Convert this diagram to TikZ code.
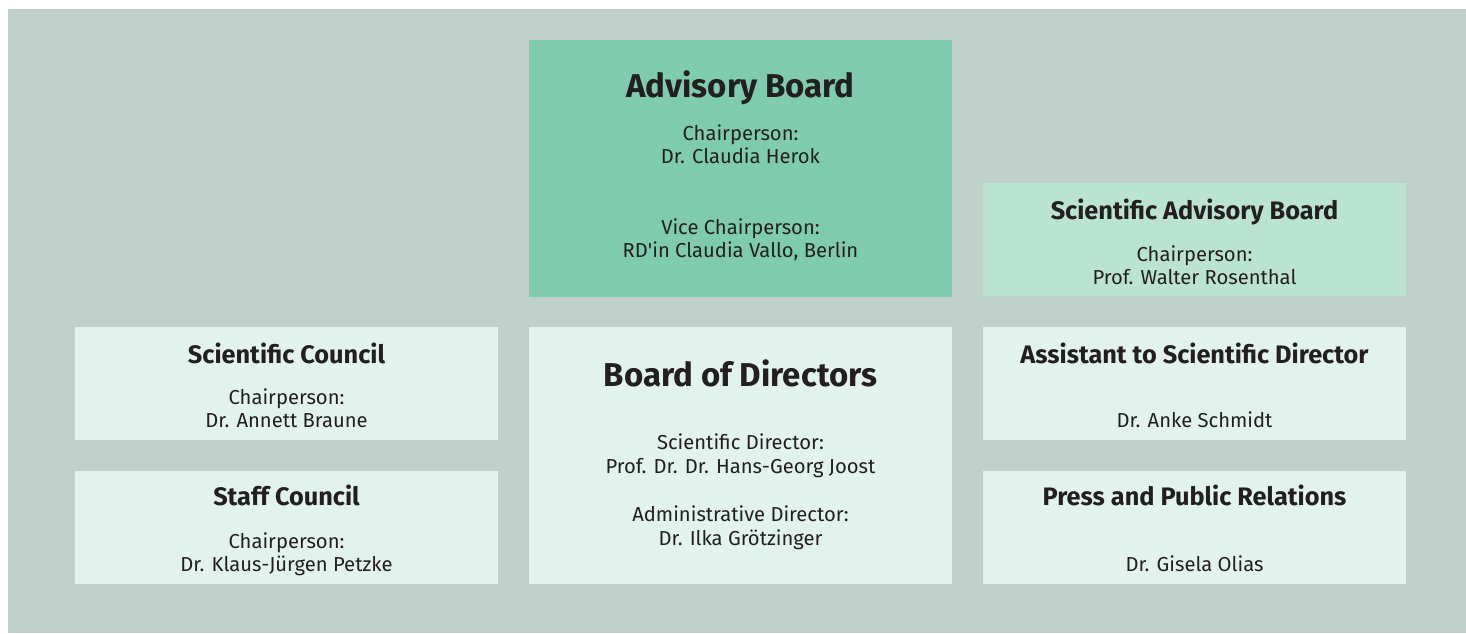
\documentclass[tikz,border=0pt]{standalone}
\usepackage{fontspec}
\newfontfamily\boxfont{Fira Sans}
\usepackage{xcolor}
\usepackage{tikz}
\usetikzlibrary{positioning}
\definecolor{GrayBack}{RGB}{192,208,203}
\definecolor{GreenBoard}{RGB}{127,203,175}
\definecolor{GreenPale}{RGB}{187,227,210}
\definecolor{GreenLight}{RGB}{226,242,236}
\definecolor{InkDark}{RGB}{35,31,32}
\tikzset{
  panel/.style={draw=none,inner sep=0pt,minimum width=423,minimum height=113},
  bighead/.style={anchor=base,font=\boxfont\bfseries\fontsize{33}{38}\selectfont,text=InkDark,inner sep=0pt},
  head/.style={anchor=base,font=\boxfont\bfseries\fontsize{25.3}{30}\selectfont,text=InkDark,inner sep=0pt},
  line/.style={anchor=base,font=\boxfont\fontsize{20.2}{24}\selectfont,text=InkDark,inner sep=0pt}
}
\begin{document}
\begin{tikzpicture}[x=1pt,y=-1pt]
  \useasboundingbox (0,0) rectangle (1466,633);
  \fill[GrayBack] (8,9) rectangle (1466,633);
  % boxes
  \node[panel,fill=GreenBoard,minimum height=257] (adv) at (740.5,168.5) {};
  \node[panel,fill=GreenPale] (sab) at (1194.5,239.5) {};
  \node[panel,fill=GreenLight] (sci) at (286.5,383.5) {};
  \node[panel,fill=GreenLight] (staff) at (286.5,527.5) {};
  \node[panel,fill=GreenLight,minimum height=257] (dir) at (740.5,455.5) {};
  \node[panel,fill=GreenLight] (asst) at (1194.5,383.5) {};
  \node[panel,fill=GreenLight] (press) at (1194.5,527.5) {};
  % Advisory Board
  \node[bighead] (advT) at (740.5,97) {Advisory Board};
  \node[line] (advA) at (740.5,140) {Chairperson:};
  \node[line] (advB) at (740.5,163) {Dr. Claudia Herok};
  \node[line] (advC) at (740.5,234) {Vice Chairperson:};
  \node[line] (advD) at (740.5,257) {RD'in Claudia Vallo, Berlin};
  % Scientific Advisory Board
  \node[head] (sabT) at (1194.5,219) {Scientific Advisory Board};
  \node[line] (sabA) at (1194.5,261) {Chairperson:};
  \node[line] (sabB) at (1194.5,284) {Prof. Walter Rosenthal};
  % Scientific Council
  \node[head] (sciT) at (286.5,363) {Scientific Council};
  \node[line] (sciA) at (286.5,404) {Chairperson:};
  \node[line] (sciB) at (286.5,427) {Dr. Annett Braune};
  % Staff Council
  \node[head] (staffT) at (286.5,505) {Staff Council};
  \node[line] (staffA) at (286.5,548) {Chairperson:};
  \node[line] (staffB) at (286.5,571) {Dr. Klaus-Jürgen Petzke};
  % Board of Directors
  \node[bighead] (dirT) at (740.5,386) {Board of Directors};
  \node[line] (dirA) at (740.5,449) {Scientific Director:};
  \node[line] (dirB) at (740.5,473) {Prof. Dr. Dr. Hans-Georg Joost};
  \node[line] (dirC) at (740.5,521) {Administrative Director:};
  \node[line] (dirD) at (740.5,545) {Dr. Ilka Grötzinger};
  % Assistant and Press
  \node[head] (asstT) at (1194.5,363) {Assistant to Scientific Director};
  \node[line] (asstA) at (1194.5,427) {Dr. Anke Schmidt};
  \node[head] (pressT) at (1194.5,505) {Press and Public Relations};
  \node[line] (pressA) at (1194.5,571) {Dr. Gisela Olias};
\end{tikzpicture}
\end{document}
